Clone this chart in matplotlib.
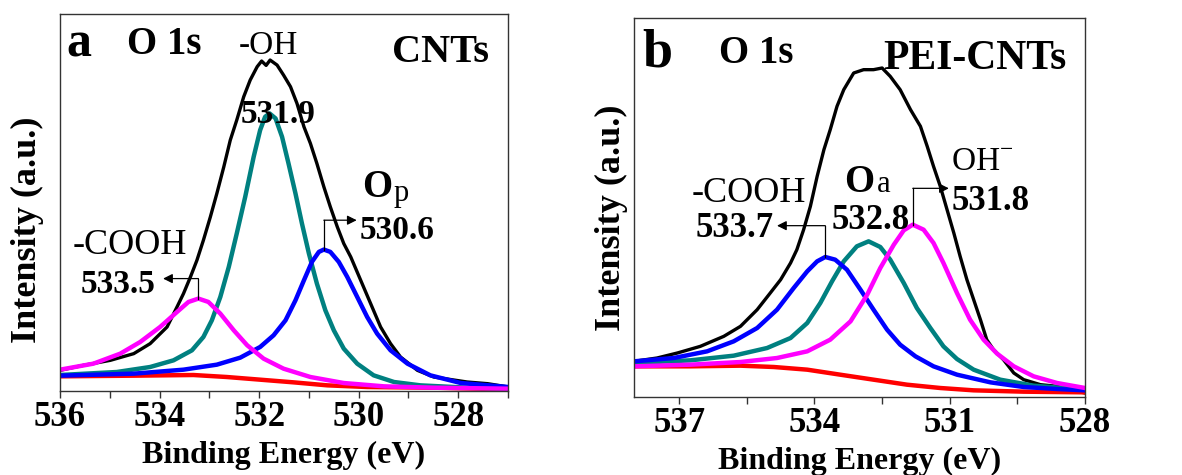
import matplotlib
matplotlib.use('Agg')
import matplotlib.pyplot as plt
from matplotlib.ticker import MultipleLocator

plt.rcParams['font.family'] = ['Liberation Serif', 'DejaVu Serif']
plt.rcParams['mathtext.fontset'] = 'custom'
plt.rcParams['mathtext.rm'] = 'Liberation Serif'

# ---- panel a: CNTs, O 1s (binding energy in eV, intensity in a.u.) ----
a_raw_be = [536.00, 535.53, 534.99, 534.52, 534.19, 533.85, 533.65, 533.52, 533.38, 533.25,
            533.12, 532.98, 532.85, 532.71, 532.58, 532.45, 532.31, 532.18, 532.04, 531.95,
            531.86, 531.78, 531.64, 531.51, 531.37, 531.24, 531.10, 530.97, 530.84, 530.70,
            530.57, 530.43, 530.30, 530.16, 529.96, 529.76, 529.56, 529.36, 529.16, 528.82,
            528.49, 527.82, 527.41, 526.99]
a_raw_int = [6.2, 7.7, 9.2, 11.2, 14.2, 19.2, 25.2, 29.2, 34.2, 39.2,
             45.2, 52.2, 59.2, 67.2, 75.2, 81.2, 88.2, 93.2, 97.2, 98.9,
             97.6, 99.2, 97.7, 94.7, 91.2, 86.2, 79.2, 74.2, 68.2, 61.2,
             55.2, 49.2, 44.2, 40.2, 33.2, 26.2, 19.2, 14.2, 10.2, 6.2,
             4.2, 2.7, 2.2, 1.2]

a_oh_be = [536.00, 534.86, 534.19, 533.72, 533.35, 533.12, 532.95, 532.78, 532.61, 532.45,
           532.28, 532.11, 531.98, 531.88, 531.79, 531.67, 531.54, 531.41, 531.27, 531.14,
           531.00, 530.84, 530.67, 530.50, 530.30, 530.03, 529.70, 529.29, 528.76, 527.82,
           526.99]
a_oh_int = [4.8, 5.7, 7.2, 9.2, 12.2, 16.2, 21.2, 28.2, 37.2, 47.2,
            58.2, 70.2, 78.2, 82.2, 83.2, 81.7, 76.2, 68.2, 59.2, 50.2,
            41.2, 32.2, 24.2, 18.2, 12.7, 8.2, 4.7, 2.7, 1.7, 1.0,
            0.7]

a_op_be = [536.00, 534.52, 533.52, 532.85, 532.38, 531.98, 531.71, 531.47, 531.27, 531.10,
           530.94, 530.80, 530.70, 530.57, 530.40, 530.23, 530.03, 529.83, 529.63, 529.36,
           529.02, 528.56, 527.95, 526.99]
a_op_int = [4.6, 5.2, 6.4, 7.9, 10.0, 13.2, 16.7, 21.2, 27.2, 33.2,
            38.7, 41.7, 42.4, 41.7, 38.7, 34.2, 28.2, 22.2, 17.2, 12.2,
            8.2, 4.7, 2.4, 1.2]

a_cooh_be = [536.00, 535.33, 534.79, 534.39, 533.99, 533.65, 533.42, 533.22, 533.02, 532.78,
             532.51, 532.24, 531.91, 531.51, 530.97, 530.30, 529.49, 528.49, 526.99]
a_cooh_int = [6.4, 8.2, 11.2, 14.7, 19.2, 23.7, 26.7, 27.7, 26.7, 23.2,
              18.2, 13.7, 9.7, 6.7, 4.2, 2.4, 1.4, 1.0, 0.7]

a_bg_be = [536.00, 534.52, 533.32, 532.65, 531.98, 531.31, 530.63, 529.83, 528.49, 526.99]
a_bg_int = [4.4, 4.6, 4.8, 4.2, 3.4, 2.6, 1.7, 1.2, 1.0, 0.5]

a_ticks = [536, 534, 532, 530, 528]

# ---- panel b: PEI-CNTs, O 1s ----
b_raw_be = [538.00, 537.49, 537.04, 536.53, 536.01, 535.64, 535.27, 534.98, 534.75, 534.53,
            534.39, 534.24, 534.09, 533.94, 533.79, 533.65, 533.50, 533.35, 533.13, 532.91,
            532.69, 532.50, 532.32, 532.10, 531.87, 531.65, 531.50, 531.36, 531.21, 531.06,
            530.91, 530.77, 530.62, 530.47, 530.32, 530.18, 530.03, 529.81, 529.58, 529.36,
            528.99, 528.62, 528.33, 528.00]
b_raw_int = [10.7, 11.7, 13.2, 15.2, 18.2, 21.2, 26.2, 31.2, 35.2, 40.2,
             44.2, 50.2, 57.2, 66.2, 74.2, 80.2, 87.2, 92.2, 97.2, 98.2,
             98.2, 98.7, 96.2, 92.2, 86.2, 81.2, 75.2, 69.2, 63.2, 56.2,
             49.2, 42.2, 35.2, 29.2, 23.2, 17.2, 14.2, 11.2, 7.2, 5.2,
             3.7, 3.2, 2.2, 1.2]

b_cooh_be = [538.00, 537.12, 536.38, 535.79, 535.27, 534.83, 534.46, 534.16, 533.94, 533.76,
             533.54, 533.28, 532.98, 532.69, 532.39, 532.10, 531.76, 531.36, 530.84, 530.10,
             529.36, 528.62, 528.00]
b_cooh_int = [10.7, 11.7, 13.7, 16.7, 20.7, 26.2, 32.7, 37.7, 40.7, 42.0,
              41.2, 38.2, 32.2, 26.2, 20.2, 15.7, 12.2, 9.2, 6.7, 4.4,
              3.0, 2.4, 2.0]

b_oa_be = [538.00, 536.75, 535.79, 535.05, 534.53, 534.16, 533.87, 533.61, 533.35, 533.06,
           532.80, 532.54, 532.32, 532.02, 531.73, 531.43, 531.14, 530.84, 530.47, 529.88,
           529.14, 528.00]
b_oa_int = [10.2, 11.0, 12.4, 14.7, 17.7, 22.2, 28.2, 34.7, 40.7, 45.2,
            46.7, 45.0, 41.2, 34.2, 26.7, 20.7, 15.2, 11.4, 8.2, 5.2,
            3.4, 2.2]

b_oh_be = [538.00, 536.75, 535.64, 534.83, 534.16, 533.65, 533.20, 532.83, 532.54, 532.24,
           532.02, 531.82, 531.58, 531.36, 531.14, 530.84, 530.55, 530.25, 529.95, 529.58,
           529.14, 528.62, 528.00]
b_oh_int = [9.2, 9.7, 10.5, 11.7, 13.7, 17.2, 22.7, 30.7, 38.7, 45.7,
            50.0, 51.7, 50.2, 46.2, 40.2, 31.2, 23.2, 17.2, 13.0, 9.2,
            6.2, 4.2, 2.7]

b_bg_be = [538.00, 536.75, 535.64, 534.90, 534.16, 533.43, 532.69, 531.95, 531.21, 530.47,
           529.36, 528.00]
b_bg_int = [9.2, 9.2, 9.4, 9.0, 8.2, 6.7, 5.2, 3.7, 2.7, 2.0, 1.6, 1.4]

b_ticks = [537, 534, 531, 528]

TEAL = '#008080'
BLUE = '#0000ff'
MAGENTA = '#ff00ff'
RED = '#ff0000'
RAW_LW = 2.4
FIT_LW = 3.2


def peak(be, inten):
    i = inten.index(max(inten))
    return be[i], inten[i]


def bracket(ax, be, inten, top, tip):
    # vertical line from the component maximum, then an arrow to the label
    x0, y0 = peak(be, inten)
    ax.plot([x0, x0], [y0, top], color='k', lw=0.9)
    ax.annotate('', xy=(tip, top), xytext=(x0, top),
                arrowprops=dict(arrowstyle='-|>', color='k', lw=0.9,
                                mutation_scale=14, shrinkA=0, shrinkB=0))


def style_axes(ax, xlim, ylim, ticks, minor):
    ax.set_xlim(*xlim)
    ax.set_ylim(*ylim)
    ax.set_xticks(ticks)
    ax.set_xticklabels([str(t) for t in ticks], fontsize=25, fontweight='bold')
    ax.xaxis.set_minor_locator(MultipleLocator(minor))
    ax.set_yticks([])
    ax.tick_params(axis='x', which='both', direction='out', length=5, width=1,
                   pad=2, color='#333333')
    for s in ax.spines.values():
        s.set_color('#333333')
        s.set_linewidth(1.0)
    ax.set_xlabel('Binding Energy (eV)', fontsize=23, fontweight='bold', labelpad=5)
    ax.set_ylabel('Intensity (a.u.)', fontsize=26, fontweight='bold')


fig = plt.figure(figsize=(11.82, 4.75), dpi=100)
ax1 = fig.add_axes([0.0508, 0.1768, 0.379, 0.7937])
ax2 = fig.add_axes([0.5364, 0.1642, 0.3816, 0.7979])

# panel a
ax1.plot(a_raw_be, a_raw_int, color='k', lw=RAW_LW)
ax1.plot(a_bg_be, a_bg_int, color=RED, lw=FIT_LW)
ax1.plot(a_oh_be, a_oh_int, color=TEAL, lw=FIT_LW)
ax1.plot(a_op_be, a_op_int, color=BLUE, lw=FIT_LW)
ax1.plot(a_cooh_be, a_cooh_int, color=MAGENTA, lw=FIT_LW)
style_axes(ax1, (536, 527), (0, 113), a_ticks, 1)
ax1.yaxis.set_label_coords(-0.036, 0.427)

ax1.text(0.015, 0.888, 'a', transform=ax1.transAxes, fontsize=36, fontweight='bold')
ax1.text(0.149, 0.894, 'O 1s', transform=ax1.transAxes, fontsize=28, fontweight='bold')
ax1.text(0.465, 0.894, '-OH', transform=ax1.transAxes, fontsize=24, ha='center')
ax1.text(0.957, 0.873, 'CNTs', transform=ax1.transAxes, fontsize=29, fontweight='bold', ha='right')
ax1.text(531.63, 80.2, '531.9', fontsize=24, fontweight='bold', ha='center')
ax1.text(529.93, 58.2, 'O', fontsize=28, fontweight='bold')
ax1.text(529.30, 57.0, 'p', fontsize=22)
ax1.text(529.99, 45.7, '530.6', fontsize=24, fontweight='bold')
ax1.text(535.75, 41.0, '-COOH', fontsize=26)
ax1.text(534.09, 29.4, '533.5', fontsize=24, fontweight='bold', ha='right')
bracket(ax1, a_cooh_be, a_cooh_int, 33.7, 533.93)
bracket(ax1, a_op_be, a_op_int, 51.2, 530.04)

# panel b
ax2.plot(b_raw_be, b_raw_int, color='k', lw=RAW_LW)
ax2.plot(b_bg_be, b_bg_int, color=RED, lw=FIT_LW)
ax2.plot(b_oa_be, b_oa_int, color=TEAL, lw=FIT_LW)
ax2.plot(b_cooh_be, b_cooh_int, color=BLUE, lw=FIT_LW)
ax2.plot(b_oh_be, b_oh_int, color=MAGENTA, lw=FIT_LW)
style_axes(ax2, (538, 528), (0, 113.7), b_ticks, 1.5)
ax2.yaxis.set_label_coords(-0.014, 0.474)

ax2.text(0.018, 0.872, 'b', transform=ax2.transAxes, fontsize=39, fontweight='bold')
ax2.text(0.188, 0.880, 'O 1s', transform=ax2.transAxes, fontsize=28, fontweight='bold')
ax2.text(0.959, 0.865, 'PEI-CNTs', transform=ax2.transAxes, fontsize=30, fontweight='bold', ha='right')
ax2.text(536.73, 58.4, '-COOH', fontsize=26)
ax2.text(536.64, 48.0, '533.7', fontsize=25, fontweight='bold')
ax2.text(533.35, 61.4, 'O', fontsize=28, fontweight='bold')
ax2.text(532.62, 61.4, 'a', fontsize=22)
ax2.text(533.63, 50.4, '532.8', fontsize=25, fontweight='bold')
ax2.text(530.97, 68.0, r'OH$^{-}$', fontsize=24)
ax2.text(530.95, 56.2, '531.8', fontsize=25, fontweight='bold')
bracket(ax2, b_cooh_be, b_cooh_int, 51.4, 534.83)
bracket(ax2, b_oh_be, b_oh_int, 62.6, 531.02)

fig.savefig('out.png', dpi=100)
